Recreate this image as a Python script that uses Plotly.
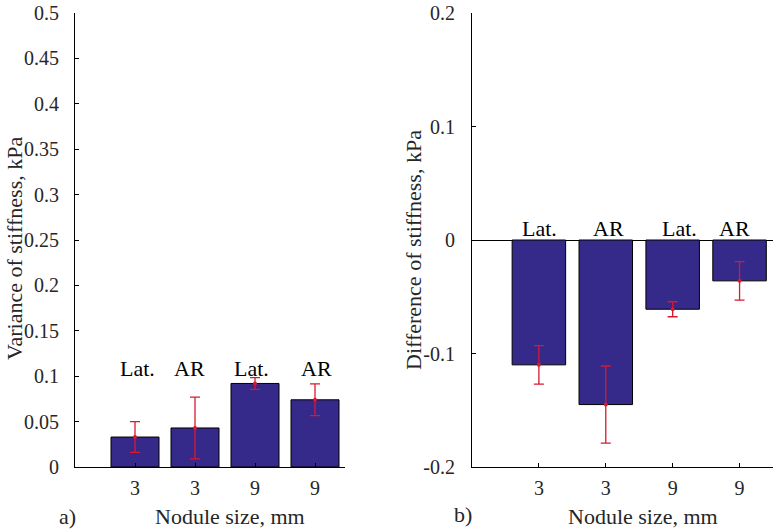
import plotly.graph_objects as go

# ---- data ----
positions = [1, 2, 3, 4]
size_labels = ["3", "3", "9", "9"]
view_labels = ["Lat.", "AR", "Lat.", "AR"]

variance_vals = [0.033, 0.043, 0.092, 0.074]
variance_err = [0.017, 0.034, 0.0065, 0.0175]

diff_vals = [-0.110, -0.145, -0.061, -0.036]
diff_err = [0.017, 0.034, 0.0066, 0.017]

left_yticks = [0, 0.05, 0.1, 0.15, 0.2, 0.25, 0.3, 0.35, 0.4, 0.45, 0.5]
left_yticktext = ["0", "0.05", "0.1", "0.15", "0.2", "0.25", "0.3", "0.35", "0.4", "0.45", "0.5"]
right_yticks = [-0.2, -0.1, 0, 0.1, 0.2]
right_yticktext = ["-0.2", "-0.1", "0", "0.1", "0.2"]

left_label_y = 0.1085
right_label_y = 0.0105

# ---- style ----
FONT = "Liberation Serif"
BAR_COLOR = "#35298A"
ERR_COLOR = "#D8192E"
TXT = "#262626"
FS = 22
TICK_FS = 20
left_label_shift = [2, -6, -4, 1]
right_label_shift = [1, 3, 7, -5]

fig = go.Figure()

for vals, errs, xa, ya in [(variance_vals, variance_err, "x", "y"),
                           (diff_vals, diff_err, "x2", "y2")]:
    fig.add_trace(go.Bar(
        x=positions, y=vals, width=0.8, xaxis=xa, yaxis=ya,
        marker=dict(color=BAR_COLOR, line=dict(color="black", width=1)),
        showlegend=False, hoverinfo="y"))
    fig.add_trace(go.Scatter(
        x=positions, y=vals, mode="markers", xaxis=xa, yaxis=ya,
        marker=dict(color=ERR_COLOR, size=4),
        error_y=dict(type="data", array=errs, visible=True,
                     color=ERR_COLOR, thickness=1.3, width=5),
        showlegend=False, hoverinfo="skip"))

# Lat./AR labels
for xa, ya, ly, shifts in [("x", "y", left_label_y, left_label_shift),
                           ("x2", "y2", right_label_y, right_label_shift)]:
    for p, lab, s in zip(positions, view_labels, shifts):
        fig.add_annotation(x=p, y=ly, xref=xa, yref=ya, text=lab, xshift=s,
                           showarrow=False, font=dict(family=FONT, size=FS, color="black"))

axis_common = dict(showline=True, linecolor="black", linewidth=1,
                   ticks="inside", ticklen=4, tickcolor="black",
                   showgrid=False, tickfont=dict(family=FONT, size=TICK_FS, color=TXT),
                   automargin=False, fixedrange=True, ticklabeloverflow="allow")

fig.update_layout(
    width=778, height=531,
    margin=dict(l=0, r=0, t=0, b=0),
    paper_bgcolor="white", plot_bgcolor="white",
    template="none",
    font=dict(family=FONT, size=FS, color=TXT),
    bargap=0.2,
    xaxis=dict(domain=[75/778, 345/778], range=[0, 4.5], tickvals=positions,
               ticktext=size_labels, anchor="y", zeroline=False,
               ticklabelstandoff=3, **axis_common),
    yaxis=dict(domain=[64/531, 518/531], range=[0, 0.5], tickvals=left_yticks,
               ticktext=left_yticktext, anchor="x", zeroline=False,
               ticklabelstandoff=11, **axis_common),
    xaxis2=dict(domain=[472/778, 773/778], range=[0, 4.5], tickvals=positions,
                ticktext=size_labels, anchor="y2", zeroline=False,
                ticklabelstandoff=3, **axis_common),
    yaxis2=dict(domain=[64/531, 518/531], range=[-0.2, 0.2], tickvals=right_yticks,
                ticktext=right_yticktext, anchor="x2", zeroline=True,
                zerolinecolor="black", zerolinewidth=1,
                ticklabelstandoff=12, **axis_common),
)

def paper_text(x, y, text, angle=0):
    fig.add_annotation(x=x/778, y=1 - y/531, xref="paper", yref="paper",
                       text=text, showarrow=False, textangle=angle,
                       font=dict(family=FONT, size=FS, color=TXT),
                       xanchor="center", yanchor="middle")

paper_text(230, 516, "Nodule size, mm")
paper_text(643, 516, "Nodule size, mm")
paper_text(67, 516, "a)")
paper_text(463, 514, "b)")
paper_text(14, 249, "Variance of stiffness, kPa", angle=-90)
paper_text(413, 250, "Difference of stiffness, kPa", angle=-90)

fig.write_html("out.html", config={"displayModeBar": False},
               post_script="document.body.style.margin='0';document.body.style.padding='0';")
